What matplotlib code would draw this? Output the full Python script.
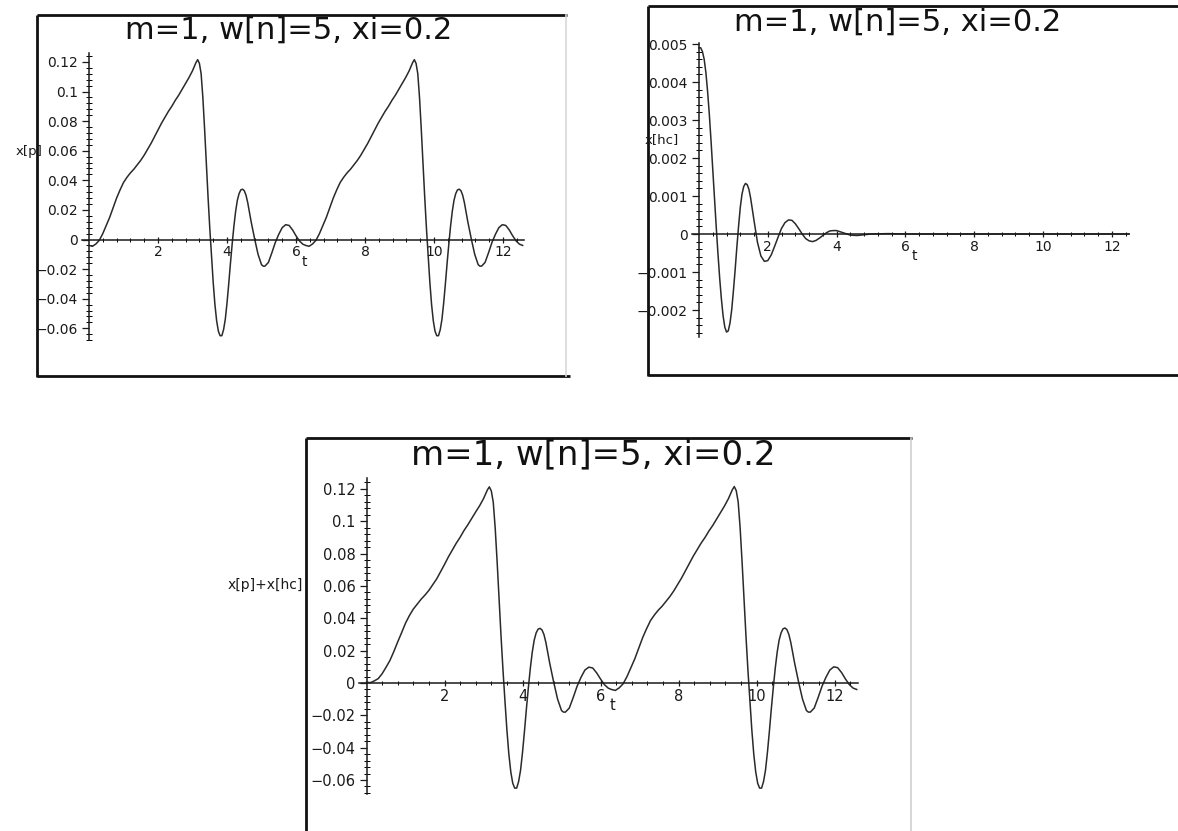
import matplotlib
matplotlib.use("Agg")
import matplotlib.pyplot as plt
from matplotlib.ticker import MultipleLocator, FixedLocator, FixedFormatter

plt.rcParams['font.family'] = ['DejaVu Sans']

# ---------------- data ----------------
title_text = "m=1, w[n]=5, xi=0.2"

# x[p] : particular (steady-state) response
t_p = [0.00, 0.10, 0.20, 0.30, 0.40, 0.50, 0.60, 0.70, 0.80, 0.90,
       1.00, 1.10, 1.20, 1.30, 1.40, 1.50, 1.60, 1.70, 1.80, 1.90,
       2.00, 2.10, 2.20, 2.30, 2.40, 2.50, 2.60, 2.70, 2.80, 2.90,
       3.00, 3.10, 3.15, 3.20, 3.25, 3.30, 3.35, 3.40, 3.45, 3.50,
       3.55, 3.60, 3.65, 3.70, 3.75, 3.80, 3.85, 3.90, 3.95, 4.00,
       4.05, 4.10, 4.15, 4.20, 4.25, 4.30, 4.35, 4.40, 4.45, 4.50,
       4.55, 4.60, 4.70, 4.80, 4.90, 5.00, 5.05, 5.10, 5.20, 5.30,
       5.40, 5.50, 5.60, 5.70, 5.80, 5.90, 6.00, 6.10, 6.20,
       6.28, 6.38, 6.48, 6.58, 6.68, 6.78, 6.88, 6.98, 7.08, 7.18,
       7.28, 7.38, 7.48, 7.58, 7.68, 7.78, 7.88, 7.98, 8.08, 8.18,
       8.28, 8.38, 8.48, 8.58, 8.68, 8.78, 8.88, 8.98, 9.08, 9.18,
       9.28, 9.38, 9.43, 9.48, 9.53, 9.58, 9.63, 9.68, 9.73, 9.78,
       9.83, 9.88, 9.93, 9.98, 10.03, 10.08, 10.13, 10.18, 10.23, 10.28,
       10.33, 10.38, 10.43, 10.48, 10.53, 10.58, 10.63, 10.68, 10.73, 10.78,
       10.83, 10.88, 10.98, 11.08, 11.18, 11.28, 11.33, 11.38, 11.48, 11.58,
       11.68, 11.78, 11.88, 11.98, 12.08, 12.18, 12.28, 12.38, 12.48, 12.57]
x_p = [-0.0040, -0.0046, -0.0030, -0.0005, 0.0040, 0.0095, 0.0150, 0.0215, 0.0280, 0.0335,
       0.0385, 0.0420, 0.0450, 0.0475, 0.0505, 0.0535, 0.0570, 0.0610, 0.0650, 0.0695,
       0.0740, 0.0785, 0.0825, 0.0865, 0.0900, 0.0940, 0.0975, 0.1015, 0.1055, 0.1095,
       0.1140, 0.1195, 0.1215, 0.1190, 0.1120, 0.0960, 0.0750, 0.0520, 0.0290, 0.0080,
       -0.0110, -0.0290, -0.0440, -0.0550, -0.0620, -0.0650, -0.0650, -0.0610, -0.0540, -0.0430,
       -0.0300, -0.0160, -0.0030, 0.0090, 0.0190, 0.0265, 0.0310, 0.0335, 0.0340, 0.0330,
       0.0300, 0.0250, 0.0120, 0.0005, -0.0100, -0.0170, -0.0180, -0.0180, -0.0155, -0.0090,
       -0.0020, 0.0035, 0.0080, 0.0100, 0.0095, 0.0065, 0.0025, -0.0010, -0.0032,
       -0.0040, -0.0046, -0.0030, -0.0005, 0.0040, 0.0095, 0.0150, 0.0215, 0.0280, 0.0335,
       0.0385, 0.0420, 0.0450, 0.0475, 0.0505, 0.0535, 0.0570, 0.0610, 0.0650, 0.0695,
       0.0740, 0.0785, 0.0825, 0.0865, 0.0900, 0.0940, 0.0975, 0.1015, 0.1055, 0.1095,
       0.1140, 0.1195, 0.1215, 0.1190, 0.1120, 0.0960, 0.0750, 0.0520, 0.0290, 0.0080,
       -0.0110, -0.0290, -0.0440, -0.0550, -0.0620, -0.0650, -0.0650, -0.0610, -0.0540, -0.0430,
       -0.0300, -0.0160, -0.0030, 0.0090, 0.0190, 0.0265, 0.0310, 0.0335, 0.0340, 0.0330,
       0.0300, 0.0250, 0.0120, 0.0005, -0.0100, -0.0170, -0.0180, -0.0180, -0.0155, -0.0090,
       -0.0020, 0.0035, 0.0080, 0.0100, 0.0095, 0.0065, 0.0025, -0.0010, -0.0032, -0.0040]

# x[hc] : homogeneous (transient) response
t_hc = [0.00, 0.05, 0.10, 0.15, 0.20, 0.25, 0.30, 0.35, 0.40, 0.45,
        0.50, 0.55, 0.60, 0.65, 0.70, 0.75, 0.80, 0.85, 0.90, 0.95,
        1.00, 1.05, 1.10, 1.15, 1.20, 1.25, 1.30, 1.35, 1.40, 1.45,
        1.50, 1.55, 1.60, 1.70, 1.80, 1.90, 2.00, 2.10, 2.20, 2.30,
        2.40, 2.50, 2.60, 2.70, 2.80, 2.90, 3.00, 3.10, 3.20, 3.30,
        3.40, 3.50, 3.60, 3.70, 3.80, 3.90, 4.00, 4.20, 4.40, 4.60,
        4.80, 5.00, 5.50, 6.00, 8.00, 10.00, 12.50]
x_hc = [0.00490, 0.00490, 0.00480, 0.00460, 0.00425, 0.00375, 0.00315, 0.00245, 0.00170, 0.00095,
        0.00020, -0.00050, -0.00115, -0.00170, -0.00215, -0.00245, -0.00258, -0.00255, -0.00235, -0.00200,
        -0.00150, -0.00095, -0.00035, 0.00020, 0.00070, 0.00105, 0.00125, 0.00133, 0.00130, 0.00118,
        0.00095, 0.00065, 0.00035, -0.00022, -0.00058, -0.00072, -0.00070, -0.00055, -0.00032, -0.00008,
        0.00015, 0.00030, 0.00037, 0.00036, 0.00027, 0.00014, 0.00000, -0.00012, -0.00018, -0.00020,
        -0.00017, -0.00011, -0.00004, 0.00003, 0.00008, 0.00009, 0.00009, 0.00003, -0.00003, -0.00004,
        -0.00002, 0.00000, 0.00001, 0.00000, 0.00000, 0.00000, 0.00000]

# x[p]+x[hc] : total response
t_tot = t_p
x_tot = [0.0005, 0.0002, 0.0013, 0.0027, 0.0057, 0.0097, 0.0139, 0.0194, 0.0254, 0.0311,
         0.0370, 0.0417, 0.0457, 0.0487, 0.0518, 0.0544, 0.0573, 0.0608, 0.0644, 0.0688,
         0.0733, 0.0780, 0.0822, 0.0864, 0.0901, 0.0943, 0.0979, 0.1019, 0.1058, 0.1096,
         0.1140, 0.1194, 0.1213, 0.1188, 0.1118, 0.0958, 0.0748, 0.0518, 0.0288, 0.0079,
         -0.0111, -0.0290, -0.0440, -0.0550, -0.0620, -0.0650, -0.0650, -0.0610, -0.0540, -0.0430,
         -0.0300, -0.0160, -0.0030, 0.0090, 0.0190, 0.0265, 0.0310, 0.0333, 0.0338, 0.0328,
         0.0300, 0.0250, 0.0120, 0.0005, -0.0100, -0.0170, -0.0180, -0.0180, -0.0155, -0.0090,
         -0.0020, 0.0035, 0.0080, 0.0098, 0.0093, 0.0063, 0.0025, -0.0010, -0.0032,
         -0.0040, -0.0046, -0.0030, -0.0005, 0.0040, 0.0095, 0.0150, 0.0215, 0.0280, 0.0335,
         0.0385, 0.0420, 0.0450, 0.0475, 0.0505, 0.0535, 0.0570, 0.0610, 0.0650, 0.0695,
         0.0740, 0.0785, 0.0825, 0.0865, 0.0900, 0.0940, 0.0975, 0.1015, 0.1055, 0.1095,
         0.1140, 0.1195, 0.1215, 0.1190, 0.1120, 0.0960, 0.0750, 0.0520, 0.0290, 0.0080,
         -0.0110, -0.0290, -0.0440, -0.0550, -0.0620, -0.0650, -0.0650, -0.0610, -0.0540, -0.0430,
         -0.0300, -0.0160, -0.0030, 0.0090, 0.0190, 0.0265, 0.0310, 0.0335, 0.0340, 0.0330,
         0.0300, 0.0250, 0.0120, 0.0005, -0.0100, -0.0170, -0.0180, -0.0180, -0.0155, -0.0090,
         -0.0020, 0.0035, 0.0080, 0.0100, 0.0095, 0.0065, 0.0025, -0.0010, -0.0032, -0.0040]

x_ticks = [2, 4, 6, 8, 10, 12]
x_ticklabels = ["2", "4", "6", "8", "10", "12"]
yticks_p = [-0.06, -0.04, -0.02, 0, 0.02, 0.04, 0.06, 0.08, 0.1, 0.12]
ylabels_p = ["\u22120.06", "\u22120.04", "\u22120.02", "0", "0.02", "0.04", "0.06", "0.08", "0.1", "0.12"]
yticks_hc = [-0.002, -0.001, 0, 0.001, 0.002, 0.003, 0.004, 0.005]
ylabels_hc = ["\u22120.002", "\u22120.001", "0", "0.001", "0.002", "0.003", "0.004", "0.005"]

# ---------------- figure ----------------
W, H = 1178, 831
fig = plt.figure(figsize=(W / 100, H / 100), dpi=100)
fig.patch.set_facecolor("white")

# background layer in pixel coordinates for the scanned frames
bg = fig.add_axes([0, 0, 1, 1])
bg.set_xlim(0, W)
bg.set_ylim(H, 0)
bg.axis("off")
frame_kw = dict(color="#111111", lw=2.0, solid_capstyle="butt")
# top-left frame
bg.plot([37, 37], [15, 377], **frame_kw)
bg.plot([37, 567], [15, 15], **frame_kw)
bg.plot([37, 570], [376, 376], **frame_kw)
bg.plot([566, 566], [15, 376], color="#d8d8d8", lw=1.2)
# top-right frame
bg.plot([648, 648], [6, 376], **frame_kw)
bg.plot([648, 1178], [6, 6], **frame_kw)
bg.plot([648, 1178], [375, 375], **frame_kw)
# bottom frame
bg.plot([306, 306], [438, 831], **frame_kw)
bg.plot([306, 912], [438, 438], **frame_kw)
bg.plot([911, 911], [438, 831], color="#d0d0d0", lw=1.2)


def make_axes(x0, x1, ytop, ybot):
    return fig.add_axes([x0 / W, 1 - ybot / H, (x1 - x0) / W, (ybot - ytop) / H])


def style(ax, xlim, ylim, yt, yl, ymin, lsize, tlabel_off):
    ax.set_xlim(*xlim)
    ax.set_ylim(*ylim)
    ax.patch.set_alpha(0)
    for s in ("top", "right"):
        ax.spines[s].set_visible(False)
    ax.spines["bottom"].set_position(("data", 0))
    ax.spines["left"].set_position(("data", 0))
    for s in ("bottom", "left"):
        ax.spines[s].set_linewidth(1.1)
        ax.spines[s].set_color("#1a1a1a")
    ax.xaxis.set_major_locator(FixedLocator(x_ticks))
    ax.xaxis.set_major_formatter(FixedFormatter(x_ticklabels))
    ax.xaxis.set_minor_locator(FixedLocator([0.4 * k for k in range(1, 32) if k % 5 != 0]))
    ax.yaxis.set_major_locator(FixedLocator(yt))
    ax.yaxis.set_major_formatter(FixedFormatter(yl))
    ax.yaxis.set_minor_locator(MultipleLocator(ymin))
    ax.tick_params(axis="x", which="major", direction="inout", length=5, width=0.9,
                   pad=1.5, labelsize=lsize, colors="#1a1a1a")
    ax.tick_params(axis="x", which="minor", direction="inout", length=3, width=0.7)
    ax.tick_params(axis="y", which="major", direction="out", length=5, width=0.9,
                   pad=3, labelsize=lsize, colors="#1a1a1a")
    ax.tick_params(axis="y", which="minor", direction="inout", length=4, width=0.7)
    ax.annotate("t", xy=(tlabel_off, 0), xycoords="data", xytext=(0, -11),
                textcoords="offset points", ha="center", va="top",
                fontsize=lsize, color="#1a1a1a")


line_kw = dict(color="#2a2a2a", lw=1.1, clip_on=False)

# top-left: x[p]
s1 = 34.5
ax1 = make_axes(89 - 0.2 * s1, 89 + 12.6 * s1, 239.5 - 0.126 * 1480, 239.5 + 0.068 * 1480)
style(ax1, (-0.2, 12.6), (-0.068, 0.126), yticks_p, ylabels_p, 0.004, 10, 6.25)
ax1.plot(t_p, x_p, **line_kw)

# top-right: x[hc]
s2 = 34.4
ax2 = make_axes(699 - 0.2 * s2, 699 + 12.5 * s2, 234 - 0.00503 * 38000, 234 + 0.0027 * 38000)
style(ax2, (-0.2, 12.5), (-0.0027, 0.00503), yticks_hc, ylabels_hc, 0.0002, 10, 6.25)
ax2.plot(t_hc, x_hc, **line_kw)

# bottom: x[p]+x[hc]
s3 = 39.0
ax3 = make_axes(366.5 - 0.2 * s3, 366.5 + 12.6 * s3, 683 - 0.1268 * 1617, 683 + 0.0686 * 1617)
style(ax3, (-0.2, 12.6), (-0.0686, 0.1268), yticks_p, ylabels_p, 0.004, 10.5, 6.3)
ax3.plot(t_tot, x_tot, **line_kw)

# titles
fig.text(289 / W, 1 - 39 / H, title_text, ha="center", va="baseline", fontsize=22, color="#111111")
fig.text(898 / W, 1 - 31 / H, title_text, ha="center", va="baseline", fontsize=22, color="#111111")
fig.text(593 / W, 1 - 464 / H, title_text, ha="center", va="baseline", fontsize=24.5, color="#111111")

# y-axis labels
fig.text(42 / W, 1 - 151 / H, "x[p]", ha="right", va="center", fontsize=9.5, color="#1a1a1a")
fig.text(645 / W, 1 - 140 / H, "x[hc]", ha="left", va="center", fontsize=9.5, color="#1a1a1a")
fig.text(303 / W, 1 - 585 / H, "x[p]+x[hc]", ha="right", va="center", fontsize=10, color="#1a1a1a")

fig.savefig("out.png", dpi=100, facecolor="white")
